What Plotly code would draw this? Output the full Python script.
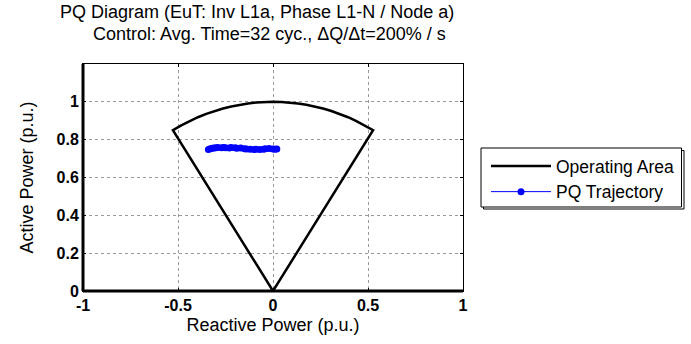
import numpy as np
import plotly.graph_objects as go

# Operating area: power-factor limited sector of the unit circle
pf_limit = 0.85
q_corner = float(np.sqrt(1 - pf_limit ** 2))
arc_q = np.linspace(-q_corner, q_corner, 25)
area_q = [0.0] + list(arc_q) + [0.0]
area_p = [0.0] + list(np.sqrt(1 - arc_q ** 2)) + [0.0]

# Measured PQ trajectory
traj_q = [-0.34, -0.33, -0.32, -0.31, -0.30, -0.29, -0.27, -0.26, -0.25, -0.23,
          -0.22, -0.20, -0.19, -0.17, -0.15, -0.14, -0.12, -0.10, -0.09, -0.07,
          -0.05, -0.04, -0.02, 0.00, 0.01, 0.02]
traj_p = [0.748, 0.752, 0.755, 0.756, 0.757, 0.758, 0.757, 0.759, 0.757, 0.756,
          0.758, 0.757, 0.755, 0.756, 0.752, 0.751, 0.749, 0.748, 0.749, 0.748,
          0.750, 0.752, 0.753, 0.751, 0.750, 0.751]

x_ticks = [-1, -0.5, 0, 0.5, 1]
x_labels = ["-1", "-0.5", "0", "0.5", "1"]
y_ticks = [0, 0.2, 0.4, 0.6, 0.8, 1.0]
y_labels = ["0", "0.2", "0.4", "0.6", "0.8", "1"]

title_lines = ["PQ Diagram (EuT: Inv L1a, Phase L1-N / Node a)",
               "Control: Avg. Time=32 cyc., \u0394Q/\u0394t=200% / s"]

FONT = "Arial, Liberation Sans, sans-serif"

# plot area in pixels
L, R, T, B = 83, 463, 64, 291
W, H = R - L, B - T


def px_x(x):
    return (x - L) / W


def px_y(y):
    return (B - y) / H


fig = go.Figure()
fig.add_trace(go.Scatter(
    x=area_q, y=area_p, mode="lines", name="Operating Area", legendgroup="area",
    line=dict(color="black", width=2.5)))
fig.add_trace(go.Scatter(
    x=traj_q, y=traj_p, mode="lines+markers", name="PQ Trajectory", legendgroup="traj",
    line=dict(color="#0000ff", width=1),
    marker=dict(color="#0000ff", size=7)))

axis_common = dict(
    showline=True, linecolor="black", linewidth=1, mirror="allticks",
    ticks="inside", ticklen=3, tickcolor="black",
    showgrid=True, gridcolor="#9a9a9a", griddash="dot", gridwidth=1,
    zeroline=False,
    tickfont=dict(family=FONT, size=16, color="black", weight="bold"),
)

fig.update_xaxes(range=[-1, 1], tickvals=x_ticks, ticktext=x_labels,
                 title=dict(text="Reactive Power (p.u.)", standoff=5,
                            font=dict(family=FONT, size=18, color="black")),
                 **axis_common)
fig.update_yaxes(range=[0, 1.2], tickvals=y_ticks, ticktext=y_labels,
                 title=dict(text="Active Power (p.u.)", standoff=18,
                            font=dict(family=FONT, size=18, color="black")),
                 **axis_common)

# Heavier left and bottom frame edges
fig.add_shape(type="line", xref="paper", yref="paper", x0=0, x1=0, y0=0, y1=1,
              line=dict(color="black", width=3))
fig.add_shape(type="line", xref="paper", yref="paper", x0=0, x1=1, y0=0, y1=0,
              line=dict(color="black", width=3))

# Two-line title
for text, cx, cy in zip(title_lines, [257, 269], [12, 34]):
    fig.add_annotation(text=text, xref="paper", yref="paper",
                       x=px_x(cx), y=px_y(cy), xanchor="center",
                       yanchor="middle", showarrow=False,
                       font=dict(family=FONT, size=18, color="black"))

# Legend frame with drop shadow
fig.add_shape(type="rect", xref="paper", yref="paper",
              x0=px_x(483.5), x1=px_x(684), y0=px_y(209), y1=px_y(150.5),
              line=dict(color="black", width=1), fillcolor="white")
fig.add_shape(type="rect", xref="paper", yref="paper",
              x0=px_x(481), x1=px_x(681.5), y0=px_y(207), y1=px_y(148),
              line=dict(color="black", width=1), fillcolor="white")

fig.update_layout(
    width=691, height=344,
    margin=dict(l=L, r=691 - R, t=T, b=344 - B),
    paper_bgcolor="white", plot_bgcolor="white",
    showlegend=True,
    legend=dict(x=px_x(486), y=px_y(148), xanchor="left", yanchor="top",
                borderwidth=0, bgcolor="rgba(0,0,0,0)",
                font=dict(family=FONT, size=17.5, color="black"),
                tracegroupgap=0, itemwidth=60),
)

fig.write_html("out.html")
